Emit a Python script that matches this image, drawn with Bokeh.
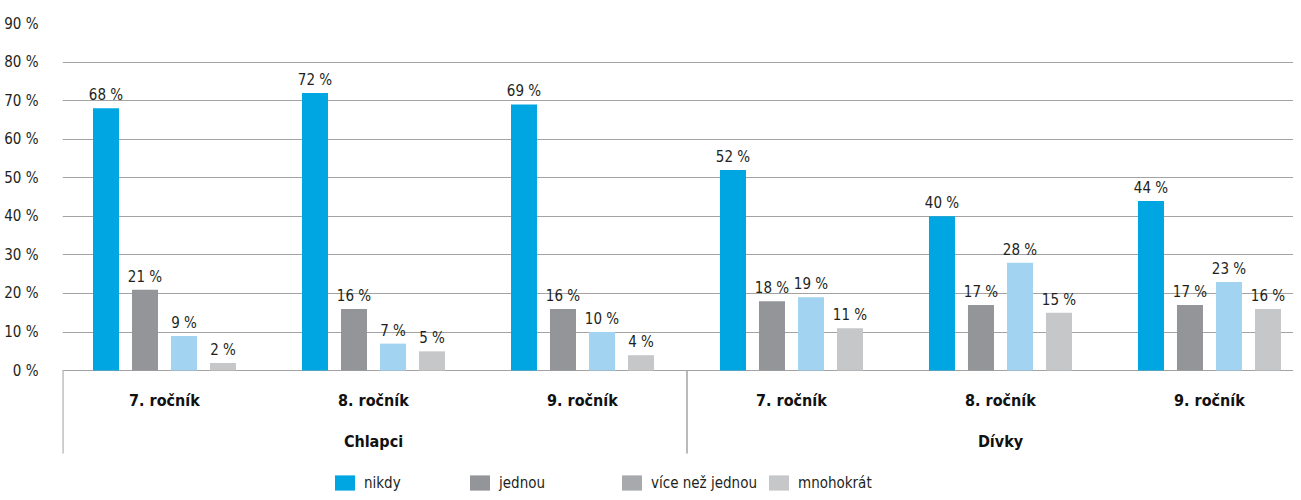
from bokeh.plotting import figure
from bokeh.models import (ColumnDataSource, Range1d, FixedTicker, Legend, LegendItem)
from bokeh.core.properties import value
from bokeh.embed import file_html
from bokeh.resources import INLINE

# ---- data ----
genders = ["Chlapci", "Dívky"]
grades = ["7. ročník", "8. ročník", "9. ročník"]
series_names = ["nikdy", "jednou", "více než jednou", "mnohokrát"]
nikdy = [68, 72, 69, 52, 40, 44]
jednou = [21, 16, 16, 18, 17, 17]
vice = [9, 7, 10, 19, 28, 23]
mnoho = [2, 5, 4, 11, 15, 16]
y_ticks = [0, 10, 20, 30, 40, 50, 60, 70, 80, 90]

bar_colors = ["#00a6e2", "#939598", "#a2d3f1", "#c6c7c9"]
legend_colors = ["#00a6e2", "#939598", "#a7a9ac", "#c6c7c9"]

FONT = "DejaVu Sans Condensed"
TXT = "#231f20"
GRID = "#a3a3a3"

p = figure(width=1293, height=492, output_backend="svg", toolbar_location=None,
           x_range=Range1d(-0.488, 5.402), y_range=Range1d(-31.6, 90),
           min_border_left=62, min_border_right=0, min_border_top=23, min_border_bottom=0)
p.outline_line_color = None
p.xaxis.visible = False
p.xgrid.visible = False

yax = p.yaxis[0]
yax.ticker = FixedTicker(ticks=y_ticks)
yax.major_label_overrides = {t: f"{t} %" for t in y_ticks}
yax.axis_line_color = None
yax.major_tick_line_color = None
yax.minor_tick_line_color = None
yax.major_tick_out = 0
yax.major_tick_in = 0
yax.major_label_standoff = 24
yax.major_label_text_font = FONT
yax.major_label_text_font_size = "15px"
yax.major_label_text_color = TXT
p.ygrid.ticker = FixedTicker(ticks=y_ticks)
p.ygrid.grid_line_color = GRID
p.ygrid.grid_line_width = 1.2

n_groups = len(nikdy)
centers = list(range(n_groups))
step = 0.1866
bw = 0.1244
all_series = [nikdy, jednou, vice, mnoho]
for k, (vals, col) in enumerate(zip(all_series, bar_colors)):
    xs = [c + (k - 1.5) * step for c in centers]
    src = ColumnDataSource(dict(x=xs, top=vals, lab=[f"{v} %" for v in vals]))
    p.vbar(x="x", top="top", bottom=0, width=bw, source=src, fill_color=col, line_color=None)
    p.text(x="x", y="top", text="lab", source=src, text_align="center", text_baseline="bottom",
           y_offset=-4, text_font=value(FONT), text_font_size="15px", text_color=TXT)

# category axis drawn below baseline
cat_labels = [g for _ in genders for g in grades]
p.text(x=centers, y=[-7.8] * n_groups, text=cat_labels, text_align="center", text_baseline="middle",
       text_font=value(FONT), text_font_size="16px", text_font_style="bold", text_color="#111111")
gcenters = [1, 4]
p.text(x=gcenters, y=[-18.5] * 2, text=genders, text_align="center", text_baseline="middle",
       text_font=value(FONT), text_font_size="16px", text_font_style="bold", text_color="#111111")
p.segment(x0=[-0.4865, 2.5, 5.5], y0=[0, 0, 0], x1=[-0.4865, 2.5, 5.5], y1=[-21.5] * 3,
          line_color=GRID, line_width=1.5)

# legend (swatch colours as printed in the original)
nan = float("nan")
for k, (name, col) in enumerate(zip(series_names, legend_colors)):
    dummy = p.vbar(x=[nan], top=[nan], width=0.1, fill_color=col, line_color=None)
    lx = [270, 405, 557, 704][k]
    leg = Legend(items=[LegendItem(label=name, renderers=[dummy])], location=(lx, 0),
                 orientation="horizontal", glyph_width=25, glyph_height=19, label_standoff=7,
                 padding=0, margin=0, border_line_color=None, background_fill_alpha=0,
                 label_text_font=FONT, label_text_font_size="15px", label_text_color=TXT,
                 label_height=19)
    p.add_layout(leg, "center")

open("out.html", "w").write(file_html(p, INLINE))
